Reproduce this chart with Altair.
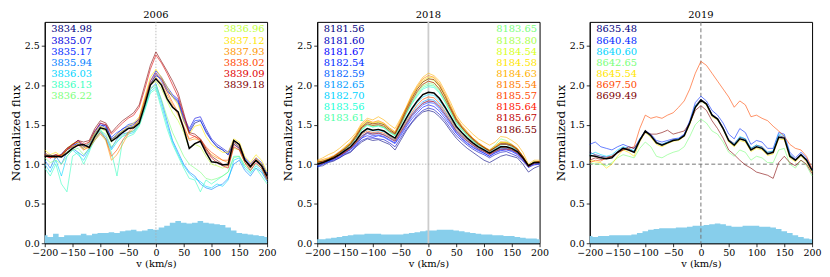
import altair as alt
import pandas as pd

# ---------------- data ----------------
V = list(range(-200, 201, 10))
X_TICKS = [-200, -150, -100, -50, 0, 50, 100, 150, 200]
Y_TICKS = [0.0, 0.5, 1.0, 1.5, 2.0, 2.5]

labels_2006 = ["3834.98", "3835.07", "3835.17", "3835.94", "3836.03", "3836.13", "3836.22",
               "3836.96", "3837.12", "3837.93", "3838.02", "3839.09", "3839.18"]
flux_2006 = [
    [1.12,1.08,1.10,1.11,1.18,1.22,1.28,1.24,1.22,1.38, 1.48,1.50,1.32,1.36,1.42,1.46,1.48,1.55,1.78,2.02,
     2.12,2.08,1.95,1.85,1.78,1.55,1.40,1.52,1.55,1.42, 1.30,1.22,1.18,1.12,1.28,1.22,1.06,0.98,1.05,1.00, 0.86],
    [1.10,1.12,1.08,1.13,1.20,1.25,1.30,1.22,1.25,1.40, 1.52,1.48,1.30,1.38,1.45,1.48,1.50,1.58,1.80,2.05,
     2.18,2.10,1.98,1.88,1.82,1.60,1.45,1.58,1.60,1.45, 1.32,1.25,1.20,1.15,1.30,1.25,1.08,1.00,1.08,1.02, 0.88],
    [1.14,1.10,1.12,1.09,1.18,1.24,1.26,1.20,1.28,1.42, 1.50,1.46,1.34,1.40,1.44,1.50,1.52,1.56,1.76,2.00,
     2.15,2.05,1.92,1.86,1.80,1.58,1.42,1.55,1.56,1.40, 1.30,1.22,1.18,1.12,1.26,1.20,1.06,0.98,1.04,0.98, 0.84],
    [1.05,0.95,1.10,1.00,1.15,1.20,1.15,1.10,1.20,1.35, 1.42,1.35,1.20,1.32,1.38,1.40,1.42,1.52,1.72,1.95,
     2.02,1.80,1.55,1.30,1.15,1.00,0.90,0.85,0.75,0.70, 0.68,0.72,0.75,0.82,1.00,1.05,0.92,0.85,0.95,0.90, 0.78],
    [1.00,0.90,1.05,0.85,1.10,1.18,1.12,1.05,1.18,1.30, 1.40,1.32,1.18,1.28,1.35,1.38,1.40,1.50,1.70,1.92,
     1.98,1.75,1.50,1.28,1.12,0.98,0.88,0.82,0.78,0.72, 0.70,0.75,0.72,0.80,1.05,1.08,0.95,0.88,0.98,0.92, 0.80],
    [0.95,0.85,1.00,0.75,0.65,1.10,1.15,1.00,1.15,1.35, 1.45,1.30,1.15,0.85,1.30,1.35,1.38,1.48,1.68,1.90,
     1.95,1.70,1.45,1.25,1.10,0.95,0.82,0.80,0.65,0.80, 0.75,0.80,0.85,0.90,1.10,1.10,0.98,0.90,0.95,0.85, 0.75],
    [1.08,1.02,1.05,1.00,1.10,1.18,1.20,1.12,1.20,1.32, 1.42,1.38,1.22,1.30,1.36,1.40,1.42,1.50,1.72,1.95,
     2.00,1.82,1.60,1.40,1.25,1.10,1.00,0.95,0.90,0.82, 0.80,0.82,0.85,0.90,1.08,1.10,0.98,0.92,1.00,0.95, 0.80],
    [1.12,1.10,1.08,1.12,1.15,1.22,1.25,1.18,1.25,1.38, 1.45,1.42,1.28,1.35,1.40,1.45,1.48,1.55,1.78,2.00,
     2.05,1.95,1.80,1.65,1.55,1.40,1.20,1.25,1.22,1.10, 1.00,0.98,0.95,0.98,1.20,1.18,1.02,0.95,1.05,1.00, 0.85],
    [1.18,1.12,1.15,1.10,1.20,1.26,1.28,1.20,1.28,1.40, 1.48,1.45,1.30,1.38,1.42,1.48,1.52,1.60,1.85,2.10,
     2.20,2.10,1.98,1.85,1.75,1.55,1.38,1.48,1.50,1.35, 1.25,1.20,1.15,1.15,1.32,1.28,1.10,1.02,1.12,1.05, 0.90],
    [1.15,1.10,1.12,1.10,1.18,1.25,1.28,1.22,1.20,1.30, 1.38,1.30,1.05,1.12,1.25,1.38,1.45,1.55,1.80,2.02,
     2.10,2.02,1.88,1.75,1.62,1.45,1.30,1.32,1.30,1.20, 1.12,1.08,1.05,1.02,1.28,1.22,1.05,0.98,1.08,1.00, 0.85],
    [1.12,1.08,1.10,1.12,1.20,1.22,1.25,1.18,1.22,1.32, 1.40,1.32,1.10,1.18,1.30,1.40,1.48,1.58,1.82,2.05,
     2.15,2.08,1.92,1.78,1.65,1.48,1.32,1.35,1.32,1.22, 1.15,1.10,1.05,1.05,1.30,1.25,1.05,0.98,1.06,0.98, 0.84],
    [1.10,1.08,1.12,1.10,1.18,1.24,1.30,1.25,1.28,1.42, 1.52,1.50,1.38,1.45,1.52,1.58,1.62,1.72,1.95,2.20,
     2.38,2.28,2.15,2.00,1.85,1.62,1.38,1.35,1.30,1.18, 1.08,1.02,0.98,0.95,1.22,1.18,1.02,0.92,1.02,0.95, 0.80],
    [1.12,1.10,1.08,1.12,1.20,1.25,1.30,1.28,1.30,1.45, 1.55,1.52,1.40,1.48,1.55,1.60,1.65,1.75,2.00,2.25,
     2.42,2.30,2.18,2.05,1.90,1.65,1.40,1.38,1.32,1.20, 1.10,1.05,1.00,0.98,1.25,1.20,1.05,0.95,1.05,0.98, 0.82],
]
mean_2006 = [1.10,1.10,1.10,1.09,1.14,1.20,1.24,1.25,1.21,1.35, 1.46,1.44,1.29,1.34,1.40,1.45,1.46,1.52,1.75,2.00,
             2.08,2.00,1.83,1.72,1.66,1.45,1.20,1.26,1.29,1.15, 1.03,1.02,0.99,1.00,1.30,1.25,1.05,0.97,1.05,0.98, 0.85]
err_2006 = [0.10,0.08,0.12,0.08,0.10,0.10,0.10,0.12,0.10,0.12, 0.13,0.13,0.14,0.13,0.15,0.16,0.17,0.15,0.16,0.18,
            0.17,0.20,0.22,0.26,0.28,0.26,0.25,0.26,0.28,0.26, 0.25,0.24,0.23,0.20,0.16,0.13,0.12,0.11,0.10,0.09, 0.08]

labels_2018 = ["8181.56", "8181.60", "8181.67", "8182.54", "8182.59", "8182.65", "8182.70", "8183.56", "8183.61",
               "8183.65", "8183.80", "8184.54", "8184.58", "8184.63", "8185.54", "8185.57", "8185.64", "8185.67",
               "8186.55"]
flux_2018 = [
    [0.97,0.98,1.02,1.04,1.08,1.12,1.15,1.22,1.28,1.32, 1.30,1.31,1.28,1.25,1.18,1.30,1.42,1.52,1.60,1.66,
     1.68,1.66,1.60,1.52,1.42,1.33,1.26,1.20,1.15,1.10, 1.05,1.02,1.06,1.10,1.12,1.10,1.08,1.00,0.90,0.95, 0.98],
    [0.98,1.00,1.03,1.05,1.08,1.13,1.16,1.23,1.30,1.33, 1.33,1.32,1.31,1.27,1.22,1.33,1.44,1.53,1.62,1.68,
     1.71,1.69,1.63,1.55,1.45,1.36,1.30,1.24,1.19,1.15, 1.12,1.08,1.12,1.15,1.16,1.13,1.10,1.04,0.96,0.99, 1.00],
    [0.99,1.01,1.04,1.06,1.10,1.14,1.19,1.24,1.33,1.36, 1.34,1.36,1.34,1.30,1.26,1.36,1.47,1.57,1.65,1.72,
     1.75,1.73,1.67,1.58,1.49,1.39,1.32,1.26,1.21,1.17, 1.14,1.10,1.14,1.17,1.18,1.16,1.12,1.05,0.97,1.00, 1.01],
    [0.96,1.00,1.03,1.07,1.09,1.15,1.18,1.26,1.33,1.39, 1.36,1.37,1.35,1.31,1.27,1.38,1.49,1.60,1.68,1.75,
     1.78,1.77,1.70,1.61,1.51,1.40,1.33,1.27,1.22,1.18, 1.14,1.10,1.15,1.18,1.19,1.17,1.13,1.06,0.96,1.01, 1.00],
    [1.00,1.02,1.04,1.08,1.11,1.16,1.20,1.27,1.35,1.40, 1.38,1.39,1.37,1.33,1.29,1.40,1.51,1.62,1.70,1.77,
     1.80,1.79,1.72,1.63,1.53,1.42,1.35,1.29,1.24,1.19, 1.16,1.12,1.16,1.19,1.20,1.18,1.14,1.07,0.98,1.02, 1.02],
    [0.98,1.01,1.05,1.07,1.12,1.15,1.21,1.27,1.36,1.40, 1.39,1.40,1.37,1.34,1.30,1.41,1.52,1.63,1.72,1.79,
     1.82,1.81,1.75,1.65,1.54,1.43,1.36,1.30,1.24,1.20, 1.16,1.13,1.16,1.20,1.20,1.18,1.14,1.07,0.97,1.01, 1.02],
    [1.00,1.02,1.05,1.08,1.12,1.17,1.22,1.29,1.39,1.44, 1.42,1.43,1.41,1.36,1.32,1.44,1.56,1.68,1.78,1.85,
     1.88,1.87,1.80,1.70,1.58,1.46,1.39,1.32,1.26,1.21, 1.17,1.14,1.17,1.21,1.22,1.19,1.15,1.08,0.98,1.02, 1.02],
    [1.01,1.03,1.06,1.09,1.14,1.19,1.24,1.33,1.43,1.49, 1.47,1.48,1.46,1.40,1.36,1.49,1.63,1.76,1.86,1.95,
     1.98,1.97,1.90,1.78,1.65,1.52,1.43,1.36,1.29,1.24, 1.20,1.16,1.20,1.24,1.25,1.22,1.17,1.09,0.98,1.03, 1.02],
    [1.02,1.03,1.06,1.09,1.13,1.19,1.25,1.33,1.44,1.50, 1.47,1.49,1.46,1.41,1.36,1.50,1.64,1.77,1.88,1.97,
     2.00,1.99,1.91,1.79,1.66,1.53,1.44,1.36,1.30,1.24, 1.20,1.16,1.20,1.25,1.25,1.22,1.18,1.09,0.98,1.02, 1.03],
    [1.03,1.02,1.06,1.09,1.14,1.20,1.25,1.34,1.45,1.50, 1.48,1.49,1.47,1.41,1.37,1.50,1.65,1.78,1.90,1.99,
     2.02,2.01,1.93,1.81,1.67,1.54,1.45,1.37,1.30,1.25, 1.21,1.18,1.24,1.32,1.30,1.25,1.19,1.10,0.98,1.03, 1.02],
    [1.02,1.04,1.06,1.10,1.14,1.20,1.26,1.35,1.46,1.52, 1.49,1.51,1.48,1.43,1.38,1.52,1.67,1.81,1.92,2.01,
     2.05,2.03,1.95,1.83,1.69,1.55,1.46,1.38,1.31,1.25, 1.21,1.17,1.22,1.28,1.27,1.23,1.19,1.10,0.99,1.02, 1.03],
    [1.04,1.03,1.07,1.10,1.15,1.21,1.27,1.36,1.48,1.54, 1.51,1.53,1.50,1.44,1.39,1.53,1.69,1.83,1.95,2.04,
     2.08,2.06,1.98,1.86,1.71,1.57,1.48,1.39,1.32,1.26, 1.22,1.17,1.22,1.27,1.27,1.24,1.19,1.10,0.98,1.03, 1.03],
    [1.03,1.05,1.07,1.10,1.15,1.21,1.27,1.37,1.49,1.55, 1.52,1.54,1.51,1.45,1.40,1.55,1.70,1.85,1.97,2.06,
     2.10,2.09,2.00,1.87,1.73,1.58,1.48,1.40,1.33,1.27, 1.22,1.17,1.22,1.27,1.27,1.24,1.20,1.10,0.98,1.02, 1.04],
    [1.05,1.08,1.12,1.15,1.20,1.26,1.32,1.40,1.52,1.58, 1.56,1.60,1.56,1.50,1.45,1.58,1.72,1.88,2.00,2.10,
     2.15,2.12,2.05,1.92,1.78,1.62,1.52,1.45,1.38,1.32, 1.28,1.24,1.28,1.35,1.34,1.30,1.25,1.15,1.00,1.05, 1.05],
    [1.04,1.06,1.08,1.11,1.16,1.22,1.28,1.38,1.50,1.56, 1.53,1.55,1.52,1.46,1.41,1.56,1.71,1.86,1.98,2.08,
     2.12,2.10,2.02,1.89,1.74,1.59,1.49,1.41,1.33,1.27, 1.22,1.18,1.23,1.28,1.28,1.25,1.20,1.10,0.98,1.03, 1.03],
    [1.00,1.02,1.05,1.08,1.11,1.16,1.21,1.28,1.38,1.42, 1.40,1.41,1.39,1.35,1.31,1.42,1.54,1.65,1.75,1.82,
     1.85,1.84,1.77,1.67,1.56,1.45,1.37,1.31,1.25,1.21, 1.17,1.13,1.17,1.21,1.21,1.19,1.15,1.07,0.97,1.02, 1.02],
    [0.99,1.01,1.05,1.07,1.11,1.15,1.20,1.27,1.35,1.40, 1.38,1.39,1.37,1.33,1.29,1.40,1.51,1.62,1.70,1.77,
     1.80,1.79,1.73,1.63,1.53,1.42,1.35,1.29,1.24,1.19, 1.16,1.12,1.16,1.19,1.19,1.18,1.14,1.07,0.97,1.01, 1.02],
    [1.03,1.03,1.06,1.09,1.14,1.19,1.25,1.34,1.46,1.51, 1.49,1.50,1.48,1.42,1.38,1.51,1.66,1.80,1.92,2.01,
     2.05,2.03,1.95,1.82,1.69,1.55,1.46,1.38,1.31,1.25, 1.21,1.16,1.21,1.25,1.25,1.23,1.18,1.09,0.98,1.02, 1.03],
    [1.02,1.04,1.06,1.10,1.15,1.20,1.26,1.36,1.47,1.53, 1.51,1.52,1.50,1.44,1.39,1.53,1.69,1.83,1.95,2.04,
     2.08,2.07,1.99,1.86,1.71,1.57,1.47,1.39,1.32,1.26, 1.21,1.17,1.21,1.26,1.26,1.24,1.19,1.10,0.98,1.02, 1.03],
]
mean_2018 = [1.00,1.02,1.05,1.08,1.12,1.17,1.22,1.30,1.40,1.45, 1.43,1.44,1.42,1.37,1.33,1.45,1.58,1.70,1.80,1.88,
             1.91,1.90,1.83,1.72,1.60,1.48,1.40,1.33,1.27,1.22, 1.18,1.14,1.18,1.22,1.22,1.20,1.16,1.08,0.98,1.02, 1.02]
err_2018 = [0.05,0.05,0.06,0.07,0.08,0.09,0.10,0.11,0.11,0.12, 0.12,0.12,0.11,0.11,0.11,0.11,0.12,0.13,0.14,0.15,
            0.16,0.16,0.17,0.17,0.17,0.16,0.15,0.14,0.13,0.12, 0.11,0.11,0.10,0.10,0.09,0.09,0.08,0.07,0.06,0.06, 0.05]

labels_2019 = ["8635.48", "8640.48", "8640.60", "8642.65", "8645.54", "8697.50", "8699.49"]
flux_2019 = [
    [1.15,1.12,1.10,1.09,1.10,1.16,1.21,1.19,1.16,1.30, 1.42,1.37,1.28,1.25,1.28,1.31,1.32,1.37,1.53,1.74,
     1.82,1.77,1.63,1.58,1.46,1.31,1.26,1.34,1.32,1.20, 1.24,1.22,1.15,1.16,1.36,1.34,1.12,1.06,1.13,1.06, 0.93],
    [1.25,1.28,1.22,1.20,1.18,1.22,1.25,1.22,1.20,1.32, 1.42,1.38,1.30,1.28,1.30,1.32,1.33,1.38,1.55,1.78,
     1.86,1.80,1.68,1.62,1.52,1.38,1.32,1.45,1.40,1.25, 1.30,1.28,1.20,1.20,1.40,1.38,1.15,1.08,1.15,1.08, 0.93],
    [1.12,1.15,1.12,1.10,1.12,1.18,1.22,1.20,1.17,1.32, 1.40,1.36,1.27,1.25,1.28,1.30,1.32,1.36,1.52,1.74,
     1.80,1.76,1.62,1.57,1.45,1.30,1.25,1.35,1.32,1.20, 1.24,1.21,1.15,1.17,1.38,1.36,1.12,1.05,1.12,1.05, 0.92],
    [1.02,1.00,1.00,0.98,1.02,1.08,1.12,1.10,1.08,1.20, 1.28,1.22,1.10,1.08,1.12,1.15,1.17,1.22,1.35,1.50,
     1.57,1.52,1.42,1.38,1.28,1.15,1.10,1.18,1.15,1.05, 1.10,1.08,1.02,1.02,1.18,1.20,1.00,0.95,1.05,0.98, 0.85],
    [1.05,1.03,1.02,0.95,1.00,1.10,1.18,1.15,1.10,1.28, 1.40,1.34,1.25,1.22,1.26,1.29,1.30,1.35,1.50,1.72,
     1.80,1.75,1.60,1.56,1.44,1.28,1.22,1.30,1.28,1.16, 1.20,1.18,1.11,1.13,1.32,1.31,1.08,1.03,1.10,1.03, 0.90],
    [1.02,1.05,1.04,1.08,1.10,1.15,1.18,1.20,1.22,1.45, 1.62,1.58,1.60,1.58,1.62,1.65,1.72,1.80,1.95,2.15,
     2.30,2.25,2.15,2.05,1.95,1.85,1.72,1.80,1.75,1.60, 1.62,1.58,1.55,1.48,1.42,1.35,1.25,1.20,1.18,1.10, 0.95],
    [1.05,1.08,1.06,1.07,1.10,1.14,1.18,1.22,1.20,1.30, 1.40,1.38,1.38,1.40,1.43,1.38,1.40,1.42,1.52,1.68,
     1.74,1.68,1.55,1.45,1.33,1.18,1.12,1.05,0.99,0.95, 0.90,0.88,0.86,0.82,1.02,1.10,1.02,0.98,1.05,1.00, 0.88],
]
mean_2019 = [1.11,1.10,1.08,1.07,1.08,1.15,1.20,1.18,1.15,1.30, 1.42,1.36,1.27,1.24,1.27,1.30,1.31,1.36,1.52,1.72,
             1.81,1.76,1.62,1.57,1.45,1.30,1.24,1.32,1.30,1.18, 1.22,1.20,1.13,1.15,1.34,1.33,1.10,1.05,1.12,1.05, 0.92]
err_2019 = [0.09,0.08,0.09,0.09,0.10,0.10,0.10,0.10,0.11,0.13, 0.15,0.17,0.18,0.19,0.19,0.19,0.20,0.20,0.21,0.22,
            0.22,0.23,0.24,0.25,0.24,0.22,0.21,0.21,0.22,0.22, 0.22,0.21,0.21,0.20,0.18,0.15,0.13,0.10,0.08,0.06, 0.05]

# ---------------- style ----------------
W, H = 224, 223
YMAX = 2.8
FONT = "DejaVu Serif"
AREA_COLOR = "#87ceeb"


def jet(x):
    if x < 0.35:
        r = 0.0
    elif x < 0.66:
        r = (x - 0.35) / 0.31
    elif x < 0.89:
        r = 1.0
    else:
        r = 1.0 - 0.5 * (x - 0.89) / 0.11
    if x < 0.125:
        g = 0.0
    elif x < 0.375:
        g = (x - 0.125) / 0.25
    elif x < 0.64:
        g = 1.0
    elif x < 0.91:
        g = 1.0 - (x - 0.64) / 0.27
    else:
        g = 0.0
    if x < 0.11:
        b = 0.5 + 0.5 * x / 0.11
    elif x < 0.34:
        b = 1.0
    elif x < 0.65:
        b = 1.0 - (x - 0.34) / 0.31
    else:
        b = 0.0
    c = [max(0, min(255, round(255 * t))) for t in (r, g, b)]
    return "#%02x%02x%02x" % tuple(c)


xs = alt.Scale(domain=[-200, 200], nice=False, zero=False)
ys = alt.Scale(domain=[0, YMAX], nice=False, zero=False)
xaxis = alt.Axis(values=X_TICKS, format="d", labelExpr="replace(datum.label, '-', '\u2212')",
                 labelFlush=False, labelOverlap=False, grid=False, tickSize=3.5,
                 labelPadding=1, titlePadding=1, title="v (km/s)", titleFontWeight="normal")
yaxis = alt.Axis(values=Y_TICKS, format=".1f", grid=False, tickSize=3.5, labelPadding=2,
                 titlePadding=2, title="Normalized flux", titleFontSize=12, titleFontWeight="normal")


def X(field):
    return alt.X(field, type="quantitative", scale=xs, axis=xaxis)


def Y(field):
    return alt.Y(field, type="quantitative", scale=ys, axis=yaxis)


def panel(title, labels, fluxes, mean, err, n_left, ref):
    n = len(labels)
    colors = [jet(i / (n - 1)) for i in range(n)]
    cs = alt.Scale(domain=labels, range=colors)
    rows = []
    for i, (lab, f) in enumerate(zip(labels, fluxes)):
        assert len(f) == len(V), (title, lab, len(f))
        for v, y in zip(V, f):
            rows.append({"v": v, "flux": y, "label": lab, "k": i})
    df = pd.DataFrame(rows)
    assert len(mean) == len(V) and len(err) == len(V)
    dm = pd.DataFrame({"v": V, "flux": mean})
    da = pd.DataFrame({"v": V, "err": err})

    area = alt.Chart(da).mark_area(color=AREA_COLOR, interpolate="step", opacity=1).encode(
        x=X("v"), y=Y("err"))

    if ref == "dotted":
        vkw = dict(color="#aaaaaa", strokeWidth=0.8, strokeDash=[1.5, 1.5])
        hkw = dict(color="#aaaaaa", strokeWidth=0.8, strokeDash=[1.5, 1.5])
    elif ref == "mixed":
        vkw = dict(color="#cccccc", strokeWidth=1.8)
        hkw = dict(color="#aaaaaa", strokeWidth=0.8, strokeDash=[1.5, 1.5])
    else:
        vkw = dict(color="#777777", strokeWidth=1.0, strokeDash=[4, 2.5])
        hkw = dict(color="#777777", strokeWidth=1.0, strokeDash=[4, 2.5])
    vrule = alt.Chart(pd.DataFrame({"v": [0]})).mark_rule(**vkw).encode(x=X("v"))
    hrule = alt.Chart(pd.DataFrame({"f": [1.0]})).mark_rule(**hkw).encode(y=Y("f"))

    step = 11.2
    first = 7.7
    layers = [area, vrule, hrule]
    for side, labs in (("left", labels[:n_left]), ("right", labels[n_left:])):
        if not labs:
            continue
        dt = pd.DataFrame({"label": labs, "row": list(range(len(labs)))})
        t = alt.Chart(dt).mark_text(align=side, baseline="middle", font=FONT, fontSize=10).encode(
            x=alt.value(6.5 if side == "left" else W - 2.5),
            y=Y("yv"),
            text="label:N",
            color=alt.Color("label:N", scale=cs, legend=None),
        ).transform_calculate(yv=f"{YMAX} - ({first} + datum.row * {step}) * {YMAX / H}")
        layers.append(t)

    lines = alt.Chart(df).mark_line(strokeWidth=0.8, opacity=0.75).encode(
        x=X("v"), y=Y("flux"),
        color=alt.Color("label:N", scale=cs, legend=None),
        order=alt.Order("v:Q"),
    )
    meanl = alt.Chart(dm).mark_line(color="black", strokeWidth=1.5).encode(x=X("v"), y=Y("flux"))
    layers += [lines, meanl]
    return alt.layer(*layers).properties(
        width=W, height=H,
        title=alt.TitleParams(title, font=FONT, fontSize=10, fontWeight="normal", offset=1, color="black"),
    )


p1 = panel("2006", labels_2006, flux_2006, mean_2006, err_2006, 7, "dotted")
p2 = panel("2018", labels_2018, flux_2018, mean_2018, err_2018, 9, "mixed")
p3 = panel("2019", labels_2019, flux_2019, mean_2019, err_2019, 7, "dashed")

chart = alt.hconcat(p1, p2, p3, spacing=50.5, bounds="flush").resolve_scale(
    color="independent"
).properties(
    padding={"left": 0, "top": 0, "right": 0, "bottom": 0}
).configure_view(stroke="black", strokeWidth=1).configure_axis(
    labelFont=FONT, titleFont=FONT, labelFontSize=9.5, titleFontSize=10,
    labelColor="black", titleColor="black", domainColor="black", tickColor="black",
    titleFontWeight="normal", domainWidth=1, tickWidth=0.8,
).configure_title(font=FONT, fontWeight="normal")

chart.save("out.html", embed_options={"renderer": "svg", "actions": False})
